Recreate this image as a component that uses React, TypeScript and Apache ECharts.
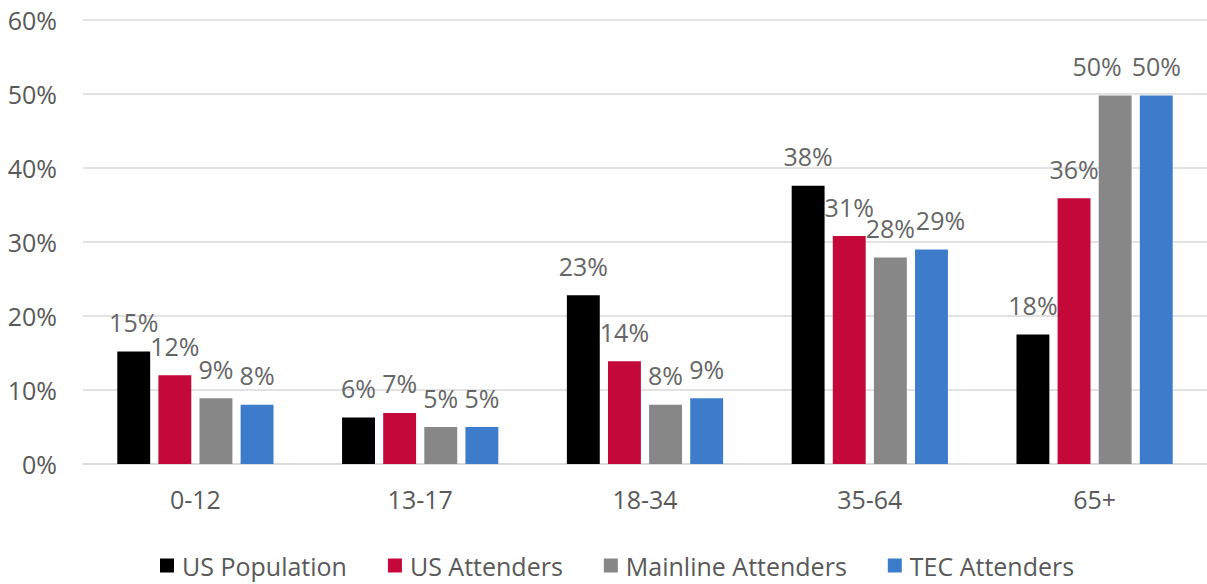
import React, { useEffect, useRef } from "react";
import * as echarts from "echarts";

const categories = ["0-12", "13-17", "18-34", "35-64", "65+"];
const seriesNames = ["US Population", "US Attenders", "Mainline Attenders", "TEC Attenders"];
const usPopulation = [15.2, 6.3, 22.8, 37.6, 17.5];
const usAttenders = [12.0, 6.9, 13.9, 30.8, 35.9];
const mainlineAttenders = [8.9, 5.0, 8.0, 27.9, 49.8];
const tecAttenders = [8.0, 5.0, 8.9, 29.0, 49.8];
const labelValues = [
  [15, 6, 23, 38, 18],
  [12, 7, 14, 31, 36],
  [9, 5, 8, 28, 50],
  [8, 5, 9, 29, 50],
];
// horizontal nudges of individual data labels (as in the reference)
const labelShiftX = [
  [0, 0, 0, 0, 0],
  [0, 0, 0, 0, 0],
  [0, 0, 0, 0, -18],
  [0, 0, 0, 9, 0],
];
const colors = ["#000000", "#C4093A", "#878787", "#3C7CCB"];

const FONT = "'Open Sans', 'Noto Sans', sans-serif";

export default function App() {
  const ref = useRef<HTMLDivElement>(null);
  useEffect(() => {
    if (!ref.current) return;
    document.body.style.margin = "0";
    document.body.style.overflow = "hidden";
    const chart = echarts.init(ref.current, undefined, { renderer: "svg" });
    const data = [usPopulation, usAttenders, mainlineAttenders, tecAttenders];
    chart.setOption({
      animation: false,
      textStyle: { fontFamily: FONT },
      grid: { left: 83, width: 1130, top: 20, bottom: 120, containLabel: false },
      legend: {
        top: 553,
        left: 160,
        padding: 0,
        itemWidth: 14,
        itemHeight: 14,
        itemGap: 41,
        icon: "rect",
        textStyle: { fontSize: 25, color: "#595959", fontFamily: FONT, padding: [0, 0, 0, 3] },
        data: seriesNames,
      },
      xAxis: {
        type: "category",
        data: categories,
        axisLine: { lineStyle: { color: "#D9D9D9", width: 2 } },
        axisTick: { show: false },
        axisLabel: { fontSize: 25, color: "#595959", margin: 22, fontFamily: FONT },
      },
      yAxis: {
        type: "value",
        min: 0,
        max: 60,
        interval: 10,
        axisLabel: { formatter: "{value}%", fontSize: 25, color: "#595959", margin: 26, fontFamily: FONT },
        splitLine: { lineStyle: { color: "#E2E2E2", width: 2 } },
        axisLine: { show: false },
        axisTick: { show: false },
      },
      series: seriesNames.map((name, i) => ({
        name,
        type: "bar",
        data: data[i].map((v, j) => ({
          value: v,
          label: { offset: [labelShiftX[i][j], 0] },
        })),
        barGap: "25%",
        barCategoryGap: "30.5%",
        itemStyle: { color: colors[i] },
        label: {
          show: true,
          position: "top",
          distance: 17,
          fontSize: 25,
          color: "#666666",
          fontFamily: FONT,
          formatter: (p: any) => labelValues[i][p.dataIndex] + "%",
        },
      })),
    });
    return () => chart.dispose();
  }, []);
  return <div ref={ref} style={{ width: 1207, height: 584 }} />;
}
